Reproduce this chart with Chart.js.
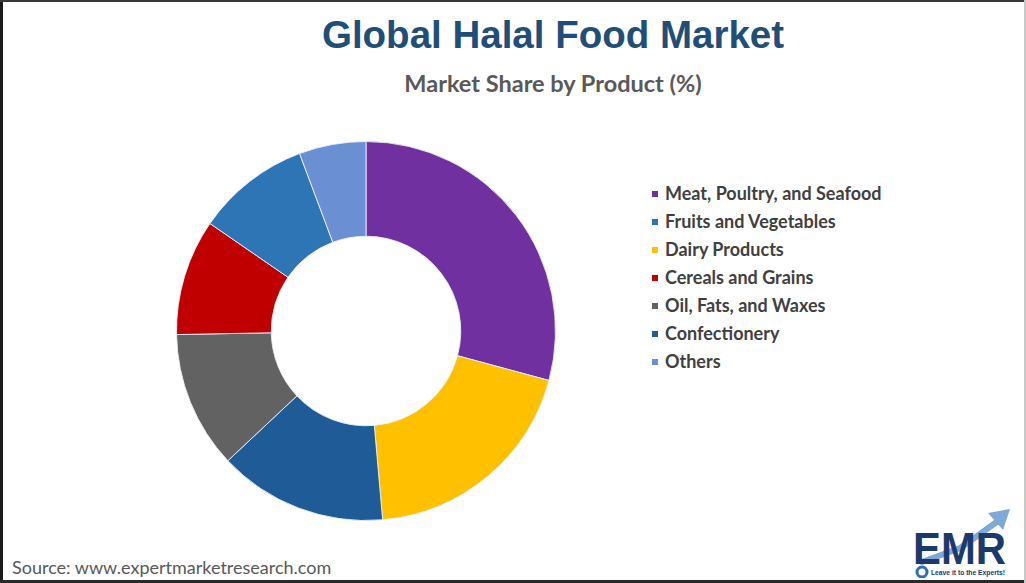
<!DOCTYPE html>
<html>
<head>
<meta charset="utf-8">
<script src="https://cdn.jsdelivr.net/npm/chart.js@4.4.1/dist/chart.umd.min.js"></script>
<style>
  html, body { margin: 0; padding: 0; background: #fff; }
  #frame { position: relative; width: 1026px; height: 583px; overflow: hidden; background: #fff; }
  .edge { position: absolute; }
  #eL { left: 0; top: 0; width: 3px; height: 583px; background: #1a1a1a; }
  #eT { left: 0; top: 0; width: 1026px; height: 2px; background: #3a3a3a; }
  #eB { left: 0; top: 580px; width: 1026px; height: 3px; background: #2a2a2a; }
  #eR { left: 1024px; top: 0; width: 2px; height: 583px; background: #c8c8c8; }
  #title {
    position: absolute; left: 0; width: 1106px; top: 13px; text-align: center;
    font: bold 38.5px "Liberation Sans", Arial, sans-serif; color: #1F4E79;
  }
  #subtitle {
    position: absolute; left: 0; width: 1106px; top: 69px; text-align: center;
    font: bold 23.5px Lato, "Open Sans", sans-serif; color: #595959;
  }
  #donut { position: absolute; left: 172px; top: 137px; }
  #legend { position: absolute; left: 652px; top: 182px; margin: 0; padding: 0; list-style: none; }
  #legend li {
    height: 28px; line-height: 28px; white-space: nowrap;
    font: bold 18px Lato, "Open Sans", sans-serif; color: #404040;
  }
  #legend li span {
    display: inline-block; width: 6px; height: 6px; margin-right: 7px; vertical-align: 3px;
  }
  #source {
    position: absolute; left: 12px; top: 556px;
    font: 18px Lato, "Open Sans", sans-serif; color: #595959;
  }
  #logo { position: absolute; left: 882px; top: 500px; }
</style>
</head>
<body>
<div id="frame">
  <div id="title">Global Halal Food Market</div>
  <div id="subtitle">Market Share by Product (%)</div>
  <canvas id="donut" width="388" height="388"></canvas>
  <ul id="legend"></ul>
  <div id="source">Source: www.expertmarketresearch.com</div>
  <svg id="logo" width="140" height="78" viewBox="0 0 140 78">
    <path d="M40 62 L78 48 L98 34 L116 21" stroke="#7FA8D8" stroke-width="6" fill="none" stroke-linecap="round"/>
    <path d="M106 13 L128 9 L121 30 Z" fill="#7FA8D8"/>
    <text x="31" y="64" font-family="Liberation Sans, Arial, sans-serif" font-weight="bold" font-size="44" fill="#1B3A6B" textLength="93" lengthAdjust="spacingAndGlyphs">EMR</text>
    <circle cx="40" cy="72" r="5" fill="none" stroke="#2E6FB5" stroke-width="3"/>
    <text x="49" y="75" font-family="Liberation Sans, Arial, sans-serif" font-weight="bold" font-size="7.5" fill="#1B3A6B" textLength="74" lengthAdjust="spacingAndGlyphs">Leave it to the Experts!</text>
  </svg>
  <div class="edge" id="eL"></div>
  <div class="edge" id="eT"></div>
  <div class="edge" id="eB"></div>
  <div class="edge" id="eR"></div>
</div>
<script>
// Segments in drawing order (clockwise from 12 o'clock)
const categories = [
  "Meat, Poultry, and Seafood",
  "Dairy Products",
  "Confectionery",
  "Oil, Fats, and Waxes",
  "Cereals and Grains",
  "Fruits and Vegetables",
  "Others"
];
const shares = [29.2, 19.4, 14.4, 11.7, 9.9, 9.7, 5.7];
const colors = ["#7030A0", "#FFC000", "#1F5B96", "#626262", "#C00000", "#2E75B6", "#6A8FD2"];
// Order the legend lists the categories in
const legendOrder = [
  "Meat, Poultry, and Seafood",
  "Fruits and Vegetables",
  "Dairy Products",
  "Cereals and Grains",
  "Oil, Fats, and Waxes",
  "Confectionery",
  "Others"
];

const chart = new Chart(document.getElementById("donut"), {
  type: "doughnut",
  data: {
    labels: categories,
    datasets: [{
      data: shares,
      backgroundColor: colors,
      borderColor: "rgba(235,240,248,0.9)",
      borderWidth: 1
    }]
  },
  options: {
    responsive: false,
    animation: false,
    cutout: "50%",
    layout: { padding: 4 },
    plugins: {
      legend: { display: false },
      title: { display: false },
      tooltip: { enabled: false }
    }
  }
});

// Build the legend list from the chart's own labels and colours
const legendEl = document.getElementById("legend");
legendOrder.forEach(name => {
  const i = chart.data.labels.indexOf(name);
  const li = document.createElement("li");
  const sw = document.createElement("span");
  sw.style.background = chart.data.datasets[0].backgroundColor[i];
  li.appendChild(sw);
  li.appendChild(document.createTextNode(name));
  legendEl.appendChild(li);
});
</script>
</body>
</html>
